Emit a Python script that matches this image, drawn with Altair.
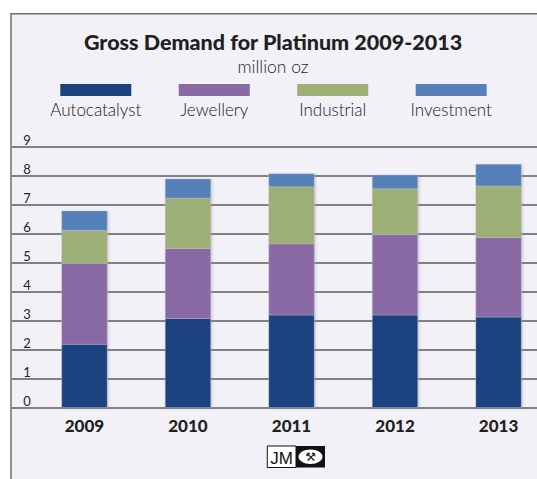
import altair as alt
import pandas as pd

years = ["2009", "2010", "2011", "2012", "2013"]
series = ["Autocatalyst", "Jewellery", "Industrial", "Investment"]
colors = ["#1b427f", "#8869a3", "#9dae76", "#5680b9"]
autocatalyst = [2.18, 3.07, 3.19, 3.19, 3.12]
jewellery = [2.79, 2.41, 2.45, 2.77, 2.74]
industrial = [1.14, 1.74, 1.97, 1.58, 1.78]
investment = [0.67, 0.66, 0.45, 0.48, 0.75]
y_ticks = [0, 1, 2, 3, 4, 5, 6, 7, 8, 9]
title_text = "Gross Demand for Platinum 2009-2013"
subtitle_text = "million oz"

vals = [autocatalyst, jewellery, industrial, investment]
rows = []
for i, s in enumerate(series):
    for yr, v in zip(years, vals[i]):
        rows.append({"year": yr, "series": s, "value": v, "order": i})
df = pd.DataFrame(rows)
one = pd.DataFrame({"k": [0]})

W, H = 526, 261
TOP = 146.5
FONT = "Lato"
DARK = "#231f20"
BG = "#f2f1f7"

xscale = alt.Scale(range=[0, 561], paddingInner=0.561, paddingOuter=0.49)
xaxis = alt.Axis(title=None, labelFont=FONT, labelFontWeight=900, labelFontSize=17,
                 labelColor=DARK, labelAngle=0, domain=False, ticks=False,
                 labelPadding=23.5, labelBaseline="alphabetic", grid=False)
yscale = alt.Scale(domain=[0, 9], nice=False)
yaxis = alt.Axis(title=None, values=y_ticks, grid=True, gridColor="#111111", gridWidth=1,
                 gridOpacity=1, domain=False, ticks=False, tickSize=0,
                 labelAlign="left", labelPadding=-11.7, labelBaseline="alphabetic",
                 labelOffset=-2.5, labelFontSize=13, labelFont=FONT, labelColor=DARK)

shadow = alt.Chart(df).transform_aggregate(total="sum(value)", groupby=["year"]).mark_bar(
    color="#9a9aa8", opacity=0.35, stroke="#9a9aa8", strokeWidth=4, strokeOpacity=0.25,
    xOffset=1.5, yOffset=1
).encode(
    x=alt.X("year:N", sort=years, scale=xscale, axis=xaxis),
    y=alt.Y("total:Q", scale=yscale, axis=yaxis),
)

bars = alt.Chart(df).mark_bar(stroke="#c8c8d8", strokeOpacity=0.45, strokeWidth=0.8).encode(
    x=alt.X("year:N", sort=years, scale=xscale, axis=xaxis),
    y=alt.Y("value:Q", stack="zero", scale=yscale, axis=yaxis),
    color=alt.Color("series:N", scale=alt.Scale(domain=series, range=colors), legend=None),
    order=alt.Order("order:Q"),
)

main = alt.layer(shadow, bars)

mask_top = alt.Chart(one).mark_rect(fill="white").encode(
    x=alt.value(-11), x2=alt.value(700), y=alt.value(-TOP), y2=alt.value(-132.7))
mask_left = alt.Chart(one).mark_rect(fill="white").encode(
    x=alt.value(-11), x2=alt.value(0), y=alt.value(-TOP), y2=alt.value(400))
border = alt.Chart(one).mark_rect(fill=None, stroke="#707070", strokeWidth=1.5).encode(
    x=alt.value(0), x2=alt.value(700), y=alt.value(-132.7), y2=alt.value(450))

title = alt.Chart(one).transform_calculate(t=f"'{title_text}'").mark_text(
    font=FONT, fontWeight=900, fontSize=21.5, color=DARK, baseline="alphabetic", align="center"
).encode(x=alt.value(262), y=alt.value(-96.5), text="t:N")
subtitle = alt.Chart(one).transform_calculate(t=f"'{subtitle_text}'").mark_text(
    font=FONT, fontWeight=300, fontSize=17.5, color=DARK, baseline="alphabetic", align="center"
).encode(x=alt.value(262), y=alt.value(-73.2), text="t:N")

leg_df = pd.DataFrame({"series": series})
leg_x = alt.X("series:N", scale=alt.Scale(type="point", domain=series, range=[84.8, 440.2], padding=0), axis=None)
leg_sw = alt.Chart(leg_df).mark_point(shape="M-1,-0.169H1V0.169H-1Z", filled=True, size=5041,
                                      opacity=1, strokeWidth=0).encode(
    x=leg_x, y=alt.value(-56.5),
    color=alt.Color("series:N", scale=alt.Scale(domain=series, range=colors), legend=None))
leg_tx = alt.Chart(leg_df).mark_text(font=FONT, fontWeight=300, fontSize=17, color="#1a1a1a",
                                     baseline="alphabetic", align="center").encode(
    x=leg_x, y=alt.value(-30.5), text="series:N")

logo_w = alt.Chart(one).mark_rect(fill="white", stroke="#111111", strokeWidth=1).encode(
    x=alt.value(256.3), x2=alt.value(285), y=alt.value(299.5), y2=alt.value(321))
logo_b = alt.Chart(one).mark_rect(fill="#111111").encode(
    x=alt.value(285), x2=alt.value(314), y=alt.value(299.5), y2=alt.value(321))
logo_jm = alt.Chart(one).transform_calculate(t="'JM'").mark_text(
    font="Liberation Sans", fontSize=17, color="#111111", baseline="alphabetic", align="center"
).encode(x=alt.value(270.6), y=alt.value(317), text="t:N")
logo_el = alt.Chart(one).mark_point(shape="M-1,0A1,0.6 0 1,0 1,0A1,0.6 0 1,0 -1,0Z", filled=True,
                                    size=576, opacity=1, color="white", strokeWidth=0).encode(
    x=alt.value(299.5), y=alt.value(310.2))
logo_h = alt.Chart(one).transform_calculate(t="'⚒'").mark_text(
    font="DejaVu Sans", fontSize=12, color="#111111", baseline="middle", align="center"
).encode(x=alt.value(299.5), y=alt.value(310.5), text="t:N")

chart = alt.layer(
    main, mask_top, mask_left, border, title, subtitle, leg_sw, leg_tx,
    logo_w, logo_b, logo_jm, logo_el, logo_h
).resolve_scale(x="independent").properties(
    width=W, height=H,
    autosize=alt.AutoSizeParams(type="none"),
    padding={"left": 11, "top": TOP, "right": 0, "bottom": 479 - TOP - H},
    background=BG,
).configure_view(strokeWidth=0)

chart.save("out.html", embed_options={"renderer": "svg", "actions": False})
